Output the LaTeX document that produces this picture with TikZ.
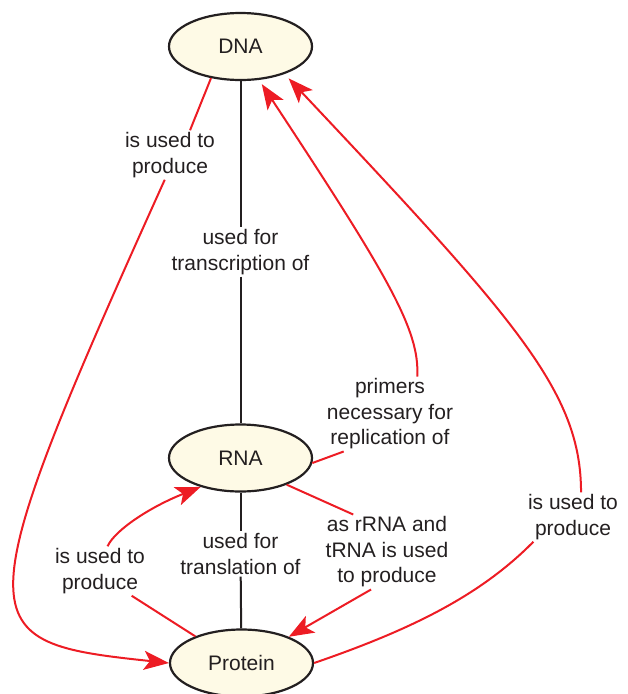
\documentclass[tikz,border=0pt]{standalone}
\usepackage{fontspec}
\setmainfont{Liberation Sans}
\usetikzlibrary{shapes.geometric,arrows.meta}
\definecolor{ink}{HTML}{231F20}
\definecolor{linkred}{HTML}{ED1C24}
\definecolor{cream}{HTML}{FEFAE6}
\begin{document}
\begin{tikzpicture}[x=1pt,y=-1pt,
  txt/.style={text=ink,font=\fontsize{21}{25.5}\selectfont},
  concept/.style={txt,ellipse,draw=ink,line width=2.2pt,fill=cream,
    minimum width=143pt,minimum height=67pt,inner sep=0pt},
  lbl/.style={txt,align=center,inner sep=2pt},
  link/.style={draw=ink,line width=2pt},
  rel/.style={draw=linkred,line width=2pt},
  headed/.style={-{Stealth[length=25pt,width=19pt,inset=6pt]}}]

\useasboundingbox (0,0) rectangle (628,694);
\clip (0,0) rectangle (628,694);

% concepts
\node[concept] (DNA)     at (240.5,46.5) {DNA};
\node[concept] (RNA)     at (240.5,458)  {RNA};
\node[concept] (Protein) at (241.5,663)  {Protein};

% link phrases
\node[lbl] (transc) at (240.5,252) {used for\\transcription of};
\node[lbl] (transl) at (240.5,554) {used for\\translation of};
\node[lbl] (dnaprod) at (170,155) {is used to\\produce};
\node[lbl] (protprod) at (100,571) {is used to\\produce};
\node[lbl] (primers) at (390,414) {primers\\necessary for\\replication of};
\node[lbl] (rrna) at (387,552) {as rRNA and\\tRNA is used\\to produce};
\node[lbl] (protdna) at (573,517) {is used to\\produce};

% central black links
\draw[link] (DNA) -- (transc);
\draw[link] (transc) -- (RNA);
\draw[link] (RNA) -- (transl);
\draw[link] (transl) -- (Protein);

% DNA is used to produce protein
\draw[rel] (DNA.227) -- (dnaprod.51);
\draw[rel,headed] (dnaprod.258) .. controls (-40,633) and (-30,642) .. (Protein.west);

% protein is used to produce RNA
\draw[rel] (Protein.150) -- (protprod.322);
\draw[rel,headed] (protprod.73) .. controls (115,530) and (150,507) .. (RNA.216);

% RNA primers for DNA replication
\draw[rel] (RNA.356) -- (primers.219);
\draw[rel,headed,shorten >=5pt] (primers.54) .. controls (420,330) and (387.7,275.4) .. (DNA.299);

% rRNA and tRNA produce protein
\draw[rel] (RNA.330) -- (rrna.132);
\draw[rel,headed] (rrna.247) -- (Protein.29);

% protein is used to produce DNA
\draw[rel] (Protein.east) .. controls (410,630) and (480,596) .. (protdna.212);
\draw[rel,headed,shorten >=6pt] (protdna.72) .. controls (581,392) and (517,321) .. (DNA.328);

\end{tikzpicture}
\end{document}
